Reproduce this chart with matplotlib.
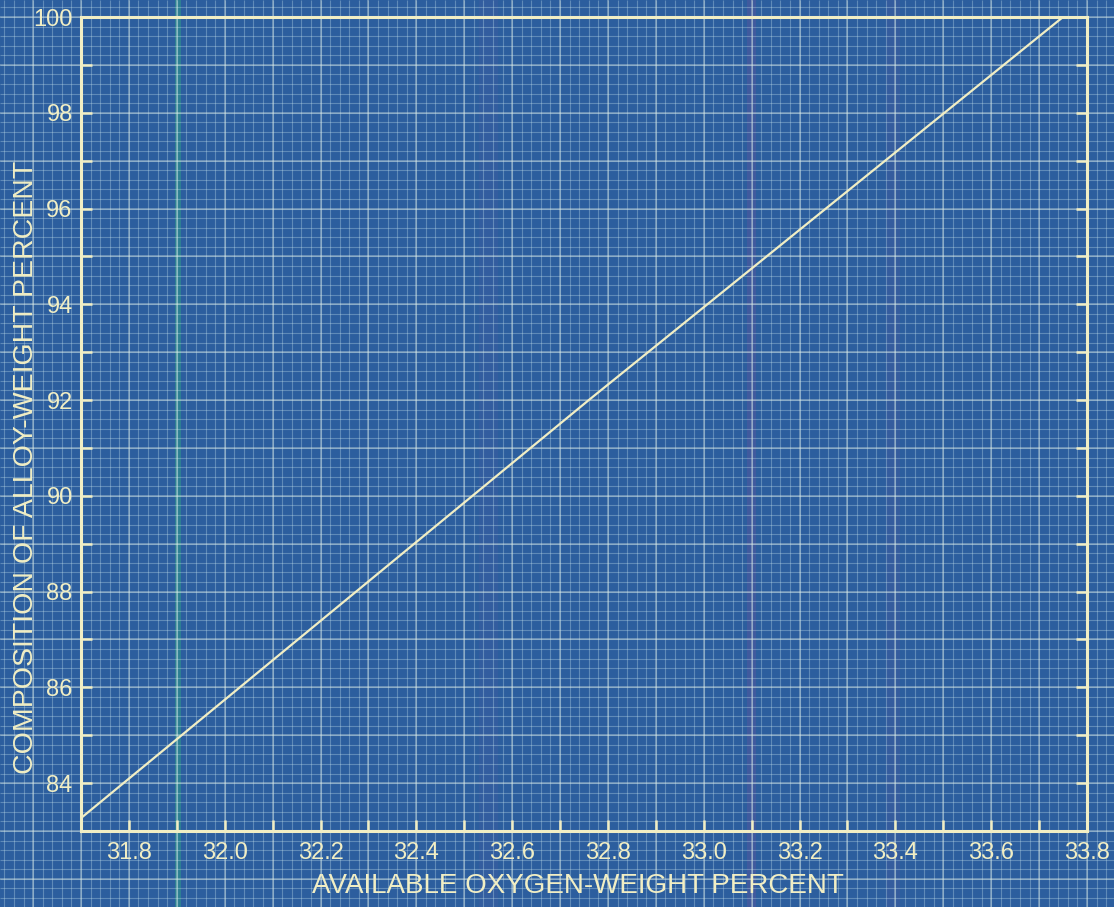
import numpy as np
import matplotlib
matplotlib.use("Agg")
import matplotlib.pyplot as plt
from matplotlib.ticker import MultipleLocator

# calibration line
oxygen = [31.70, 32.76, 33.75]
alloy = [83.27, 92.0, 100.0]

x_ticks = [31.8, 32.0, 32.2, 32.4, 32.6, 32.8, 33.0, 33.2, 33.4, 33.6, 33.8]
y_ticks = [84, 86, 88, 90, 92, 94, 96, 98, 100]

paper = '#2c5e9e'
ink = '#f1eec4'
plt.rcParams['font.family'] = ['Liberation Sans', 'DejaVu Sans']

W, H = 1114, 907
fig = plt.figure(figsize=(W / 100, H / 100), dpi=100, facecolor=paper)

# axes box in pixels
left, right, top, bottom = 81, 1087, 17, 831
xmin, xmax, ymin, ymax = 31.7, 33.8, 83.0, 100.0
xpp = (xmax - xmin) / (right - left)
ypp = (ymax - ymin) / (bottom - top)

# graph paper behind everything, aligned with the data scale
bg = fig.add_axes([0, 0, 1, 1], zorder=0)
bg.set_facecolor(paper)
bx0, bx1 = xmin - left * xpp, xmax + (W - right) * xpp
by0, by1 = ymin - (H - bottom) * ypp, ymax + top * ypp
bg.set_xlim(bx0, bx1)
bg.set_ylim(by0, by1)
bg.axis('off')
# some colour streaks from the print
bg.axvspan(31.897, 31.908, color='#2fa08a', alpha=0.5, lw=0)
bg.axvspan(32.53, 32.57, color='#6a5aa8', alpha=0.12, lw=0)
bg.axvspan(33.09, 33.11, color='#8a4fa0', alpha=0.22, lw=0)
bg.axvspan(33.38, 33.41, color='#7a52a6', alpha=0.12, lw=0)
fine_x = np.arange(31.50, 33.90, 0.02)
fine_y = np.arange(81.4, 100.6, 0.2)
bg.vlines(fine_x, by0, by1, color='#c8e6f0', lw=0.8, alpha=0.33)
bg.hlines(fine_y, bx0, bx1, color='#c8e6f0', lw=0.8, alpha=0.33)
bg.vlines(np.arange(31.5, 33.9, 0.1), by0, by1, color='#e6f2e8', lw=1.2, alpha=0.4)
bg.hlines(np.arange(82, 101, 1.0), bx0, bx1, color='#e6f2e8', lw=1.2, alpha=0.4)

ax = fig.add_axes([left / W, (H - bottom) / H, (right - left) / W,
                   (bottom - top) / H], zorder=1)
ax.patch.set_alpha(0)
ax.plot(oxygen, alloy, color=ink, lw=1.6)
ax.set_xlim(xmin, xmax)
ax.set_ylim(ymin, ymax)
for s in ax.spines.values():
    s.set_color(ink)
    s.set_linewidth(2.2)

ax.set_xticks(x_ticks)
ax.set_xticklabels([f'{v:.1f}' for v in x_ticks])
ax.set_yticks(y_ticks)
ax.xaxis.set_minor_locator(MultipleLocator(0.1))
ax.yaxis.set_minor_locator(MultipleLocator(1))
ax.tick_params(which='both', direction='in', length=8, width=1.8,
               color=ink, labelcolor=ink, labelsize=17, right=True)
ax.tick_params(axis='x', pad=8)
ax.tick_params(axis='y', pad=6)

fig.text(578 / W, 1 - 886 / H, 'AVAILABLE OXYGEN-WEIGHT PERCENT',
         color=ink, fontsize=20, ha='center', va='center')
fig.text(26 / W, 1 - 467 / H, 'COMPOSITION OF ALLOY-WEIGHT PERCENT',
         color=ink, fontsize=20.5, ha='center', va='center', rotation=90)

fig.savefig('out.png', dpi=100, facecolor=paper)
